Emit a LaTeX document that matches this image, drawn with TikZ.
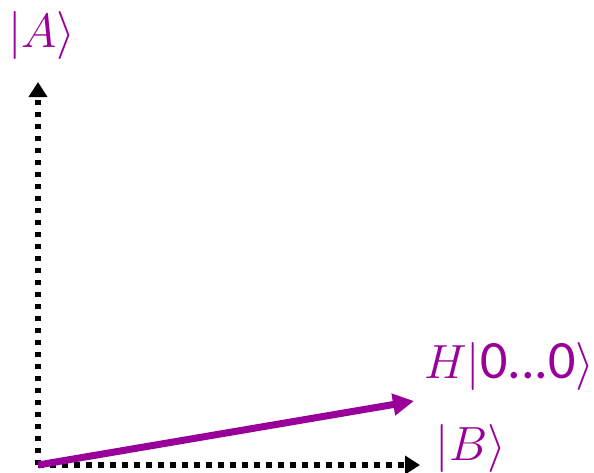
\RequirePackage{fix-cm}
\documentclass[tikz,border=0pt]{standalone}
\usepackage{fontspec}
\newfontfamily\sanf{Carlito}
\usetikzlibrary{arrows.meta}
\definecolor{vio}{RGB}{153,0,153}
\tikzset{
  axis/.style={line width=5.5pt, dash pattern=on 5.5pt off 6.5pt, -{Triangle[length=15pt,width=18pt]}},
  vec/.style={vio, line width=7pt, -{Triangle[length=21pt,width=21pt]}},
  lbl/.style={text=vio, inner sep=0pt, font=\fontsize{48}{54}\selectfont}
}
\begin{document}
\begin{tikzpicture}[x=1pt,y=-1pt]
\useasboundingbox (0,0) rectangle (594,472);
\coordinate (O) at (38,465);
\coordinate (Atip) at (38,82);
\coordinate (Btip) at (420,465);
\coordinate (Htip) at (414,401);
\draw[axis] (O) -- (Atip);
\draw[axis] (O) -- (Btip);
\draw[vec] (O) -- (Htip);
\node[lbl] (A) at (42,35) {$|A\rangle$};
\node[lbl] (B) at (471,448) {$|B\rangle$};
\node[lbl, anchor=west] (H) at (424,366) {$H|\mbox{\sanf\fontsize{54}{58}\selectfont 0...0}\rangle$};
\end{tikzpicture}
\end{document}
